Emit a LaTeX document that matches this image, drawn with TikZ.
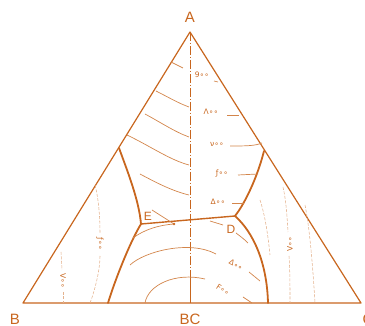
\documentclass[tikz,border=0pt]{standalone}
\usepackage{fontspec}
\setmainfont{Liberation Sans}
\newfontfamily\valfont{DejaVu Sans}
\usepackage{tikz}
\usetikzlibrary{arrows.meta,calc}
\definecolor{ink}{HTML}{C8661E}

\begin{document}
\begin{tikzpicture}[x=1pt,y=-1pt,
  edge/.style={draw=ink,line width=1.2pt,line join=round},
  bound/.style={draw=ink,line width=1.8pt,line cap=round},
  iso/.style={draw=ink!80,line width=0.7pt},
  faint/.style={draw=ink!50,line width=0.55pt,dash pattern=on 3pt off 1.5pt},
  axisline/.style={draw=ink,line width=0.8pt,dash pattern=on 9pt off 2pt on 1pt off 2pt},
  lab/.style={font=\fontsize{15}{15}\selectfont,text=ink,inner sep=0pt},
  val/.style={font=\valfont\fontsize{7.5}{8}\selectfont,text=ink,inner sep=0pt}]
\useasboundingbox (0,0) rectangle (365,326);
\coordinate (A) at (190,32);
\coordinate (B) at (23,303);
\coordinate (C) at (361,303);
\coordinate (BC) at (190,303);
\coordinate (Lt) at (119,148);
\coordinate (Ev) at (141,224);
\coordinate (Lb) at (108,303);
\coordinate (Rt) at (264,151);
\coordinate (Dv) at (235,216);
\coordinate (Rb) at (268,303);
\coordinate (Et) at (152,210);
\coordinate (Edot) at (174,224);
\node[lab] (lA) at (190,17) {A};
\node[lab] (lB) at (15,319) {B};
\node[lab] (lBC) at (190,319) {BC};
\node[lab] (lC) at (368,319) {C};
\node[lab,font=\fontsize{12}{12}\selectfont] (lE) at (148,216) {E};
\node[lab,font=\fontsize{12}{12}\selectfont] (lD) at (231,229) {D};
\draw[edge] (A) -- (B) -- (C) -- cycle;
\draw[axisline] (A) -- (190,276);
\draw[edge,line width=1pt] (190,276) -- (BC);
\draw[bound] (Lt) .. controls (127,170) and (139,200) .. (Ev);
\draw[bound] (Ev) .. controls (130,242) and (115,280) .. (Lb);
\draw[bound] (Rt) .. controls (258,175) and (246,202) .. (Dv);
\draw[bound] (Dv) .. controls (253,232) and (267,262) .. (Rb);
\draw[bound,line width=1.4pt] (Ev) -- (Dv);
\draw[iso] (Et) -- (Edot);
\fill[ink] (Edot) circle (1.3pt);
\draw[iso] (171,62) -- (183,68);
\draw[iso] (156,91) .. controls (168,97) and (178,103) .. (189,107);
\draw[iso] (145,114) .. controls (160,122) and (175,132) .. (189,137);
\draw[iso] (127,135) .. controls (150,146) and (170,160) .. (189,165);
\draw[iso] (140,174) .. controls (155,182) and (172,191) .. (189,195);
\node[val] (v9) at (202,75) {9∘∘};
\node[val] (v8) at (211,112) {Λ∘∘};
\node[val] (v7) at (217,144) {ν∘∘};
\node[val] (v6) at (222,173) {ƒ∘∘};
\node[val] (v5) at (218,202) {Δ∘∘};
\draw[iso] (214,81) -- (218,82);
\draw[iso] (227,115) -- (239,115);
\draw[iso] (230,146) .. controls (245,146) and (255,146) .. (262,143);
\draw[iso] (238,175) -- (258,174);
\draw[iso] (232,203) -- (244,203);
\draw[iso] (133,238) .. controls (145,229) and (160,225) .. (Edot);
\draw[iso] (210,221) -- (223,225);
\draw[iso] (236,233) .. controls (240,236) and (244,239) .. (248,243);
\draw[iso] (130,265) .. controls (145,251) and (190,240) .. (216,254);
\node[val,rotate=-30] (v4b) at (236,265) {Δ∘∘};
\draw[iso] (249,272) -- (260,281);
\draw[iso] (145,303) .. controls (148,285) and (175,272) .. (205,279);
\node[val,rotate=-32] (v5b) at (223,290) {F∘∘};
\draw[iso] (243,297) -- (252,303);
\draw[faint] (95,185) .. controls (99,200) and (100,220) .. (100,233);
\node[val,rotate=-90] (v6l) at (100,244) {ƒ∘∘};
\draw[faint] (100,256) .. controls (100,270) and (95,290) .. (90,303);
\draw[faint] (61,252) -- (62,270);
\node[val,rotate=-90] (v7l) at (63,281) {V∘∘};
\draw[faint] (63,292) -- (63,303);
\draw[faint] (283,187) .. controls (286,200) and (287,215) .. (288,232);
\node[val,rotate=90] (v7r) at (290,244) {V∘∘};
\draw[faint] (289,256) .. controls (290,270) and (290,285) .. (290,303);
\draw[faint] (305,205) .. controls (310,230) and (313,270) .. (315,303);
\draw[faint] (260,200) .. controls (265,215) and (268,235) .. (270,255);
\end{tikzpicture}
\end{document}
